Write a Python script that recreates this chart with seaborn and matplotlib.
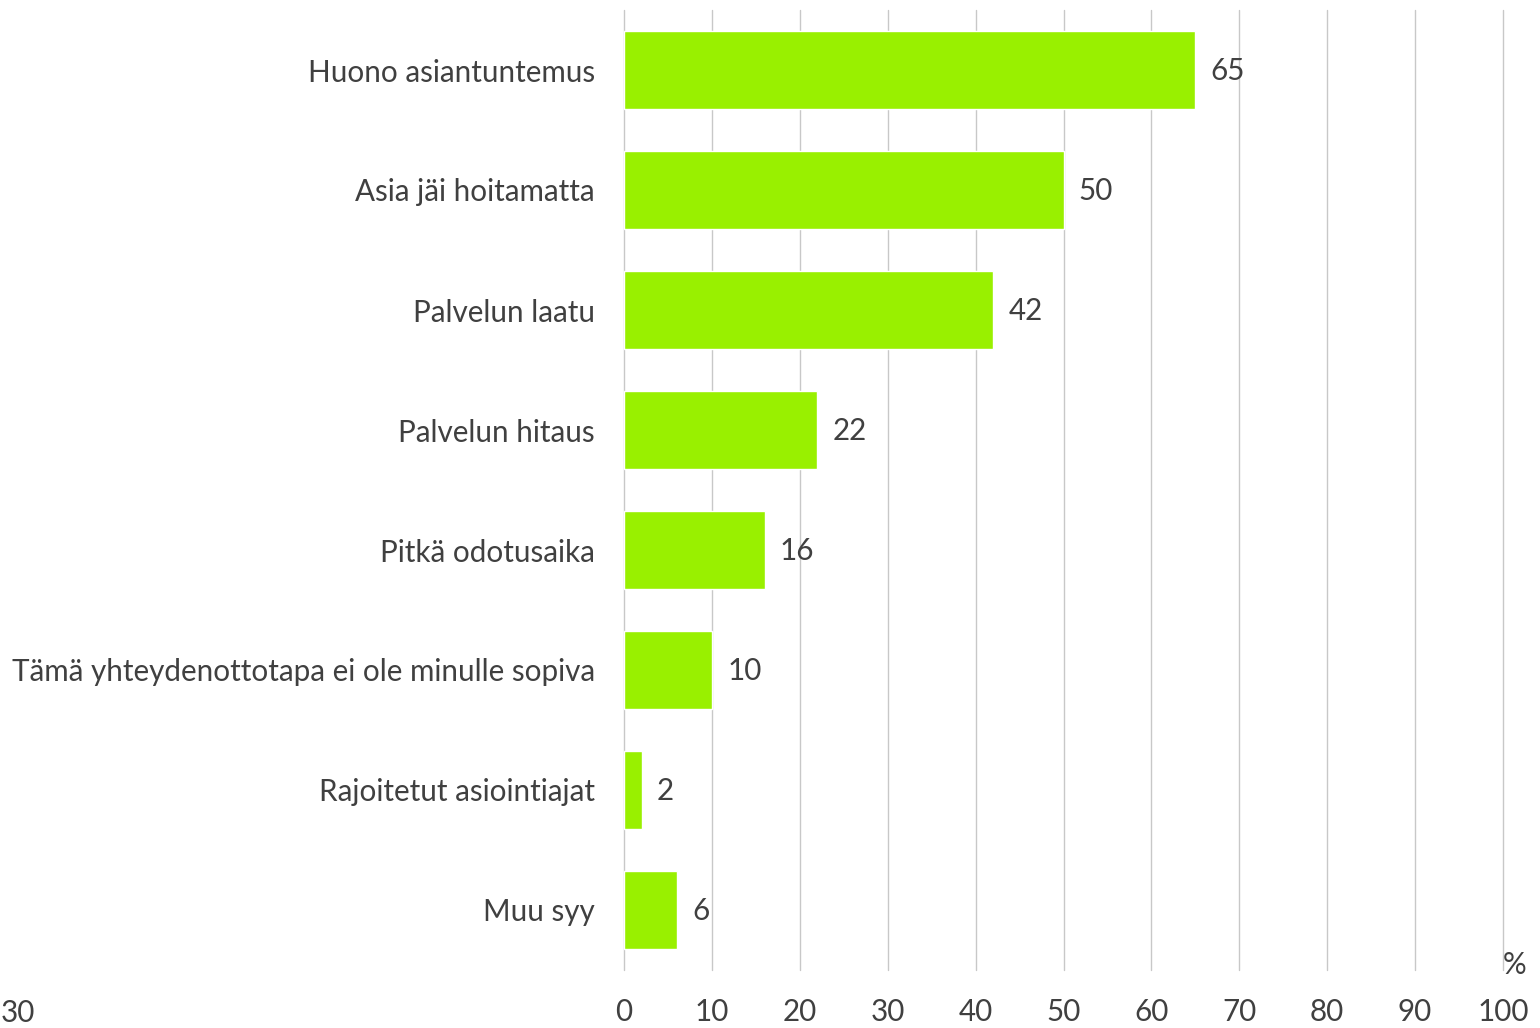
import matplotlib
matplotlib.use("Agg")
import matplotlib.pyplot as plt
import seaborn as sns
import pandas as pd

categories = [
    "Huono asiantuntemus",
    "Asia jäi hoitamatta",
    "Palvelun laatu",
    "Palvelun hitaus",
    "Pitkä odotusaika",
    "Tämä yhteydenottotapa ei ole minulle sopiva",
    "Rajoitetut asiointiajat",
    "Muu syy",
]
values = [65, 50, 42, 22, 16, 10, 2, 6]
x_ticks = [0, 10, 20, 30, 40, 50, 60, 70, 80, 90, 100]
n_label = "30"
unit_label = "%"

sns.set_theme(style="white")
plt.rcParams["font.family"] = ["Lato", "DejaVu Sans"]

text_color = "#404040"
bar_color = "#99F000"
fs = 21.3

df = pd.DataFrame({"cat": categories, "val": values})

fig = plt.figure(figsize=(15.4, 10.28), dpi=100)
ax = fig.add_axes([624/1540, 58/1028, (1503-624)/1540, 960/1028])

sns.barplot(data=df, x="val", y="cat", orient="h", color=bar_color,
            saturation=1, width=0.645, ax=ax, zorder=3)

ax.set_xlim(0, 100)
ax.set_ylim(len(categories) - 0.5, -0.5)
ax.set_xticks(x_ticks)
ax.set_xticklabels([str(t) for t in x_ticks])
ax.xaxis.grid(True, color="#C8C8C8", linewidth=1.0, zorder=0)
ax.yaxis.grid(False)
for gl in ax.xaxis.get_gridlines():
    gl.set_clip_on(False)
ax.set_axisbelow(True)
for s in ax.spines.values():
    s.set_visible(False)
ax.tick_params(axis="both", length=0, labelsize=fs, labelcolor=text_color)
ax.tick_params(axis="y", pad=21)
ax.tick_params(axis="x", pad=20)
ax.set_xlabel("")
ax.set_ylabel("")

for i, v in enumerate(values):
    ax.annotate(str(v), xy=(v, i), xytext=(11, -1), textcoords="offset points",
                ha="left", va="center", fontsize=fs, color=text_color)

fig.text(1515/1540, 1 - 965/1028, unit_label, ha="center", va="center",
         fontsize=fs, color=text_color)
fig.text(1/1540, 1 - 1013/1028, n_label, ha="left", va="center",
         fontsize=fs, color=text_color)

fig.savefig("out.png", dpi=100)
